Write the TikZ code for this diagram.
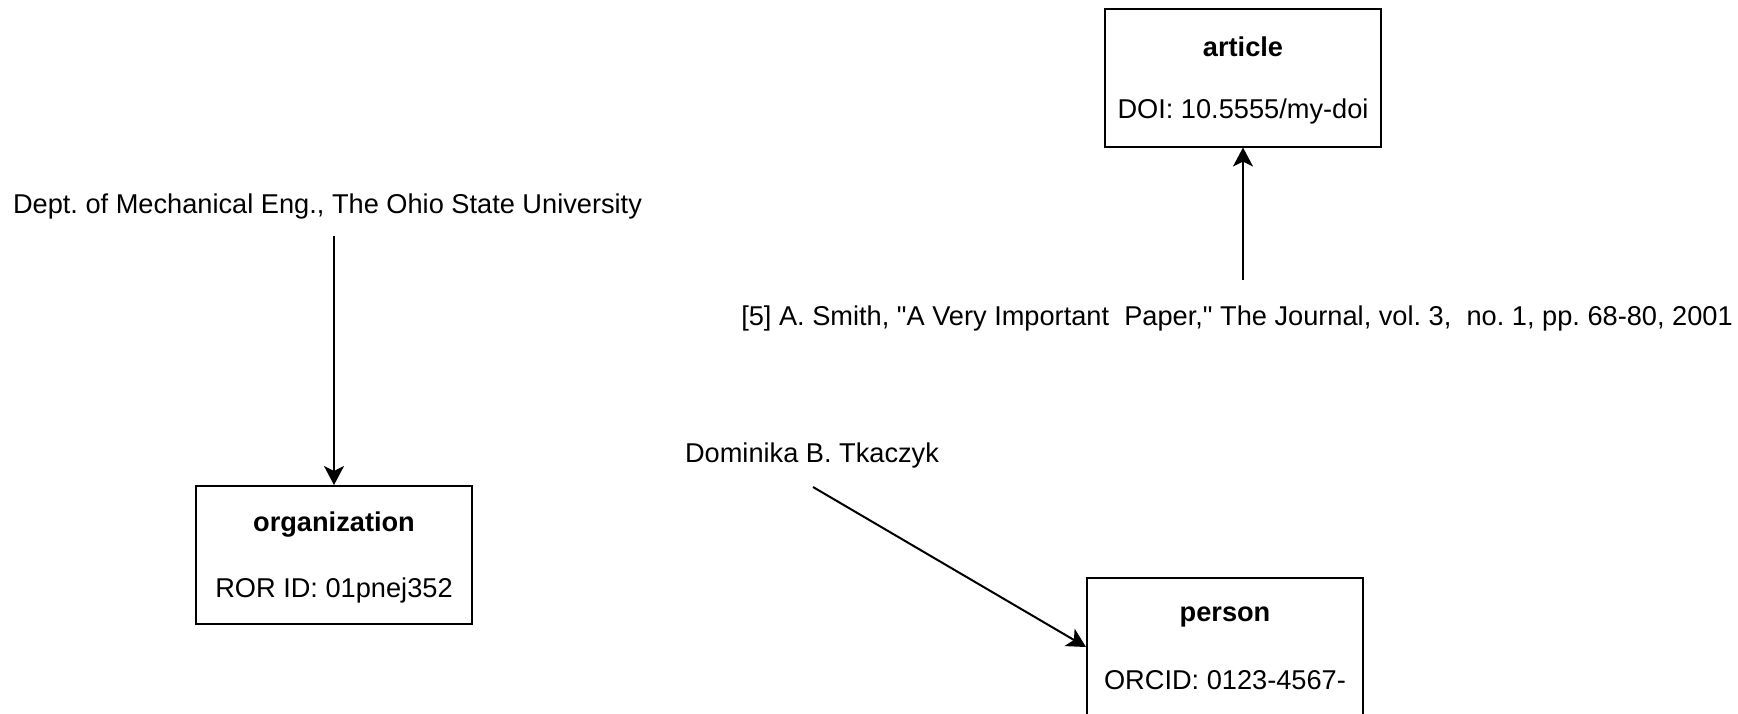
\documentclass[tikz,border=0pt]{standalone}
\usepackage{fontspec}
\setmainfont{Liberation Sans}[Ligatures=TeXOff]
\usetikzlibrary{arrows.meta}
\begin{document}
\frenchspacing
\begin{tikzpicture}[x=0.5pt,y=-0.5pt,
  box/.style={draw=black,line width=1pt,minimum width=138pt,minimum height=69pt,inner sep=0pt},
  lbl/.style={font=\fontsize{13.6pt}{16pt}\selectfont,inner sep=0pt,anchor=center},
  ttl/.style={font=\fontsize{13.6pt}{16pt}\selectfont\bfseries,inner sep=0pt,anchor=center},
  arr/.style={line width=1pt,-{Stealth[length=9.5pt,width=10pt,inset=2.5pt]}}]
\useasboundingbox (0,0) rectangle (1738,713);
\clip (0,0) rectangle (1738,713);
% organization
\node[box] (org) at (334,555) {};
\node[ttl] (orgt) at (334,525) {organization};
\node[lbl] (orgid) at (334,590) {ROR ID: 01pnej352};
% article
\node[box] (art) at (1243,77.5) {};
\node[ttl] (artt) at (1243,47) {article};
\node[lbl] (artid) at (1243,111) {DOI: 10.5555/my-doi};
% person
\node[box] (per) at (1225,647) {};
\node[ttl] (pert) at (1225,617) {person};
\node[lbl] (perid) at (1225,680) {ORCID: 0123-4567-};
% free texts
\node[lbl] (dept) at (327.5,206) {Dept. of Mechanical Eng., The Ohio State University};
\node[lbl] (cite) at (1237,318) {[5] A. Smith, "A Very Important\ \ Paper," The Journal, vol. 3,\ \ no. 1, pp. 68-80, 2001};
\node[lbl] (auth) at (812,455) {Dominika B. Tkaczyk};
% connectors
\coordinate (deptout) at (334,236);
\coordinate (citeout) at (1243,280);
\coordinate (authout) at (813,487);
\draw[arr] (deptout) -- (org.north);
\draw[arr] (citeout) -- (art.south);
\draw[arr] (authout) -- (per.west);
\end{tikzpicture}
\end{document}
